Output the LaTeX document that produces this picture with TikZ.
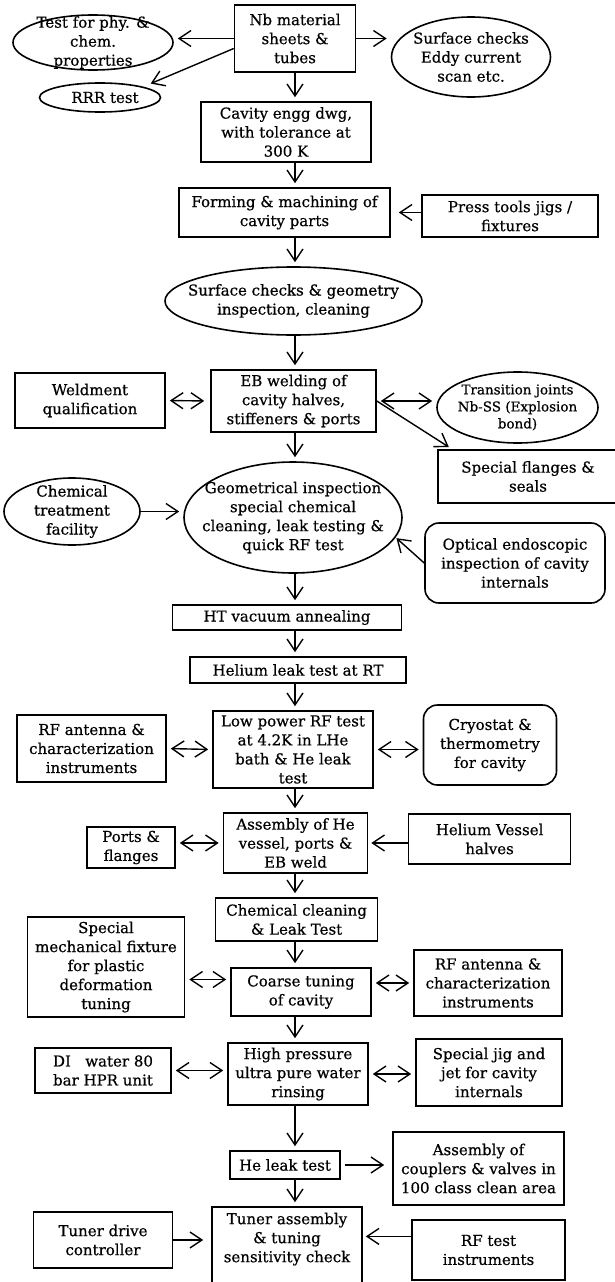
\documentclass[tikz,border=0pt]{standalone}
\usepackage{fontspec}
\setmainfont[FakeBold=0.6]{DejaVu Serif}
\usetikzlibrary{arrows.meta, shapes.geometric}

\begin{document}
\begin{tikzpicture}[x=1pt, y=1pt, font=\fontsize{15pt}{19pt}\selectfont,
    >={Straight Barb[length=12pt, width=16pt]},
    box/.style 2 args={draw, line width=1.6pt, align=center, inner sep=1pt,
                minimum width=#1, minimum height=#2},
    rbox/.style 2 args={box={#1}{#2}, rounded corners=14pt},
    oval/.style 2 args={ellipse, draw, line width=1.6pt, inner sep=0pt,
                minimum width=#1, minimum height=#2},
    txt/.style={align=center},
    flow/.style={->, line width=1.4pt, shorten >=4pt},
    dflow/.style={<->, line width=1.4pt, shorten >=4pt, shorten <=4pt},
]
    \useasboundingbox (0,0) rectangle (615,-1282);
    \coordinate (col) at (295,0);

    \node[box={121pt}{67pt}] (nb) at (295,-38.5) {Nb material\\sheets \&\\tubes};
    \node[oval={160pt}{55pt}, label={[txt]center:{Test for phy. \&\\chem.\\properties}}] (phys) at (93,-42.5) {};
    \node[oval={121pt}{29pt}, label={[txt, xshift=5pt]center:{RRR test}}] (rrr) at (100,-97.5) {};
    \node[oval={159pt}{80pt}, label={[txt]center:{Surface checks\\Eddy current\\scan etc.}}] (eddy) at (471,-57) {};
    \node[box={170pt}{60pt}] (cavdwg) at (286,-132) {Cavity engg dwg,\\with tolerance at\\300 K};
    \node[box={211pt}{49pt}] (forming) at (284.5,-212.5) {Forming \& machining of\\cavity parts};
    \node[box={176pt}{42pt}] (press) at (510,-216) {Press tools jigs /\\fixtures};
    \node[oval={257pt}{68pt}, label={[txt]center:{Surface checks \& geometry\\inspection, cleaning}}] (surfchk) at (293.5,-301) {};
    \node[box={165pt}{62pt}] (ebweld) at (293.5,-401) {EB welding of\\cavity halves,\\stiffeners \& ports};
    \node[box={150pt}{55pt}] (weldq) at (90,-400.5) {Weldment\\qualification};
    \node[oval={161pt}{71pt}, label={[txt, font=\fontsize{13.5pt}{17pt}\selectfont]center:{Transition joints\\Nb-SS (Explosion\\bond)}}] (transj) at (517.5,-407.5) {};
    \node[box={180pt}{53pt}] (flanges) at (528,-476.5) {Special flanges \&\\seals};
    \node[oval={136pt}{67pt}, label={[txt]center:{Chemical\\treatment\\facility}}] (chemtf) at (72,-511.5) {};
    \node[oval={218pt}{111pt}, label={[txt]center:{Geometrical inspection\\special chemical\\cleaning, leak testing \&\\quick RF test}}] (geoinsp) at (293,-517.5) {};
    \node[rbox={180pt}{80pt}] (optic) at (515,-563) {Optical endoscopic\\inspection of cavity\\internals};
    \node[box={229pt}{25pt}] (anneal) at (287,-617.5) {HT vacuum annealing};
    \node[box={216pt}{26pt}] (heleakrt) at (298,-670) {Helium leak test at RT};
    \node[box={160pt}{77pt}] (lowrf) at (293,-749.5) {Low power RF test\\at 4.2K in LHe\\bath \& He leak\\test};
    \node[box={149pt}{67pt}] (rfant) at (91.5,-748.5) {RF antenna \&\\characterization\\instruments};
    \node[rbox={133pt}{80pt}] (cryo) at (490,-745) {Cryostat \&\\thermometry\\for cavity};
    \node[box={144pt}{60pt}] (hevessel) at (295.5,-843) {Assembly of He\\vessel, ports \&\\EB weld};
    \node[box={88pt}{41pt}] (ports) at (131,-847.5) {Ports \&\\flanges};
    \node[box={162pt}{50pt}] (halves) at (489.6,-839) {Helium Vessel\\halves};
    \node[box={162pt}{43pt}] (chemcln) at (296.6,-919.5) {Chemical cleaning\\\& Leak Test};
    \node[box={140pt}{48pt}] (coarse) at (301,-992) {Coarse tuning\\of cavity};
    \node[box={157pt}{100pt}] (mechfix) at (106,-967) {Special\\mechanical fixture\\for plastic\\deformation\\tuning};
    \node[box={148pt}{66pt}] (rfant2) at (488,-983) {RF antenna \&\\characterization\\instruments};
    \node[box={140pt}{62pt}] (hpr) at (298,-1074) {High pressure\\ultra pure water\\rinsing};
    \node[box={136pt}{45pt}] (diwater) at (103,-1070.5) {DI\ \ \ water 80\\bar HPR unit};
    \node[box={146pt}{67pt}] (jig) at (489,-1072.5) {Special jig and\\jet for cavity\\internals};
    \node[box={110pt}{28pt}] (heleak) at (285,-1165) {He leak test};
    \node[box={171pt}{73pt}] (couplers) at (478.5,-1168.5) {Assembly of\\couplers \& valves in\\100 class clean area};
    \node[box={150pt}{88pt}, label={[txt, anchor=north, yshift=-3pt]north:{Tuner assembly\\\& tuning\\sensitivity check}}] (tuner) at (287,-1251) {};
    \node[box={139pt}{56pt}] (tunerdrv) at (103,-1240) {Tuner drive\\controller};
    \node[box={153pt}{60pt}] (rftest) at (488.5,-1250) {RF test\\instruments};

    % main column
    \draw[flow] (nb.south -| col) -- (cavdwg.north -| col);
    \draw[flow] (cavdwg.south -| col) -- (forming.north -| col);
    \draw[flow] (forming.south -| col) -- (surfchk.north -| col);
    \draw[flow] (surfchk.south -| col) -- (ebweld.north -| col);
    \draw[flow] (ebweld.south -| col) -- (geoinsp.north -| col);
    \draw[flow] (geoinsp.south -| col) -- (anneal.north -| col);
    \draw[flow] (anneal.south -| col) -- (heleakrt.north -| col);
    \draw[flow] (heleakrt.south -| col) -- (lowrf.north -| col);
    \draw[flow] (lowrf.south -| col) -- (hevessel.north -| col);
    \draw[flow] (hevessel.south -| col) -- (chemcln.north -| col);
    \draw[flow] (chemcln.south -| col) -- (coarse.north -| col);
    \draw[flow] (coarse.south -| col) -- (hpr.north -| col);
    \draw[flow] (hpr.south -| col) -- (heleak.north -| col);
    \draw[flow] (heleak.south -| col) -- (tuner.north -| col);

    % side branches
    \draw[flow] (nb.west) -- (nb.west -| phys.east);
    \draw[flow, shorten >=8pt] ([yshift=-10pt]nb.west) -- (rrr.north east);
    \draw[flow] (nb.east) -- (nb.east -| eddy.west);
    \draw[flow, shorten >=8pt] (press.west |- forming.east) -- (forming.east);
    \draw[dflow, shorten >=6pt] (weldq.east) -- (ebweld.west);
    \draw[dflow] (ebweld.east) -- (ebweld.east -| transj.west);
    \draw[flow] (ebweld.east) -- ([xshift=15pt]flanges.north west);
    \draw[flow] (chemtf.east) -- (chemtf.east -| geoinsp.west);
    \draw[flow, shorten >=1pt] (optic.west) -- (geoinsp.-11);
    \draw[dflow] (rfant.east) -- (lowrf.west);
    \draw[dflow] (lowrf.east) -- (lowrf.east -| cryo.west);
    \draw[dflow] (hevessel.west) -- (hevessel.west -| ports.east);
    \draw[flow, shorten >=3pt] (halves.west |- hevessel.east) -- (hevessel.east);
    \draw[dflow] (mechfix.east |- coarse.170) -- (coarse.170);
    \draw[dflow] (rfant2.west) -- (rfant2.west -| coarse.east);
    \draw[dflow] (diwater.east) -- (diwater.east -| hpr.west);
    \draw[dflow] (hpr.east) -- (hpr.east -| jig.west);
    \draw[flow, shorten >=8pt, shorten <=4pt] (heleak.east) -- (heleak.east -| couplers.west);
    \draw[flow, shorten >=8pt] (tunerdrv.east) -- (tunerdrv.east -| tuner.west);
    \draw[flow, shorten >=3pt] (rftest.170) -- (rftest.170 -| tuner.east);
\end{tikzpicture}
\end{document}
